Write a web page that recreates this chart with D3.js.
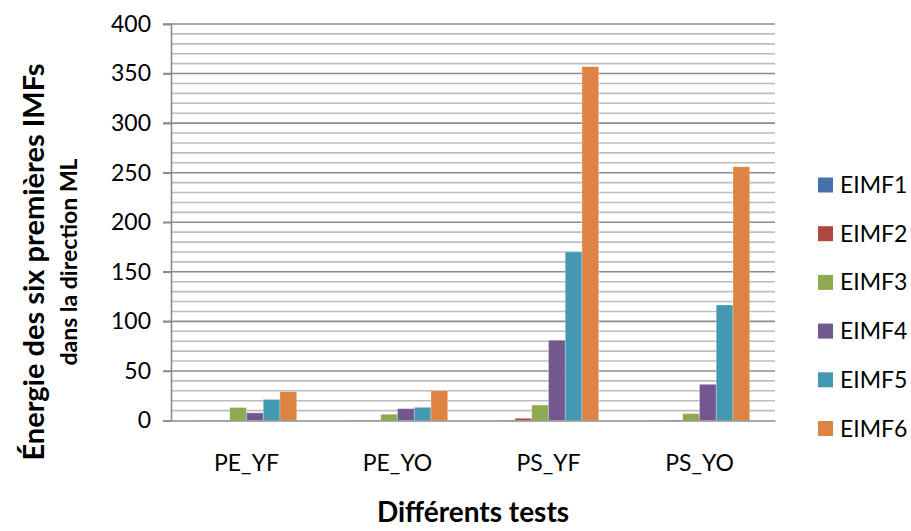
<!DOCTYPE html>
<html><head><meta charset="utf-8">
<script src="https://cdn.jsdelivr.net/npm/d3@7"></script>
<style>body{margin:0;background:#fff;} text{font-family:Lato,"Open Sans",sans-serif;}</style>
</head><body><svg id="c" width="911" height="531"></svg>
<script>
const categories = ["PE_YF","PE_YO","PS_YF","PS_YO"];
const seriesNames = ["EIMF1","EIMF2","EIMF3","EIMF4","EIMF5","EIMF6"];
const EIMF1 = [0.3, 0.2, 0.5, 0.3];
const EIMF2 = [0.4, 0.3, 2.2, 0.5];
const EIMF3 = [13.1, 6.3, 15.6, 6.9];
const EIMF4 = [7.7, 11.9, 81, 36.5];
const EIMF5 = [21.2, 13.3, 170, 116.5];
const EIMF6 = [29.2, 30, 357, 256];
const yTicks = [0,50,100,150,200,250,300,350,400];
const colors = ["#4472AC","#B0463F","#8DAA4F","#73578F","#4399B1","#DE8442"];

const series = [EIMF1,EIMF2,EIMF3,EIMF4,EIMF5,EIMF6];
const svg = d3.select("#c");
const L=171, R=775, T=24, B=420.5;
const y = d3.scaleLinear().domain([0,400]).range([B,T]);
const x0 = d3.scaleBand().domain(categories).range([L,R]);
const st = x0.step();
const x1 = d3.scaleBand().domain(seriesNames).range([st*0.1675, st*0.8325]);

// minor grid
const minor = d3.range(10,400,10).filter(v=>v%50!==0);
svg.append("g").selectAll("line").data(minor).join("line")
  .attr("x1",L).attr("x2",R).attr("y1",d=>y(d)).attr("y2",d=>y(d))
  .attr("stroke","#BDBDBD").attr("stroke-width",1.6);
svg.append("g").selectAll("line").data(yTicks.filter(v=>v>0)).join("line")
  .attr("x1",L-8).attr("x2",R).attr("y1",d=>y(d)).attr("y2",d=>y(d))
  .attr("stroke","#8C8C8C").attr("stroke-width",1.6);

// bars
const g = svg.append("g");
categories.forEach((c,i)=>{
  seriesNames.forEach((s,j)=>{
    const v = series[j][i];
    g.append("rect").attr("x",x0(c)+x1(s)).attr("width",x1.bandwidth())
      .attr("y",y(v)).attr("height",B-y(v)).attr("fill",colors[j])
      .attr("stroke","rgba(255,255,255,0.35)").attr("stroke-width",0.8);
  });
});

// axes
const ya = d3.axisLeft(y).tickValues(yTicks).tickSize(8).tickPadding(12);
const yg = svg.append("g").attr("transform",`translate(${L},0)`).call(ya);
yg.select(".domain").attr("stroke","#8C8C8C").attr("stroke-width",1.6);
yg.selectAll(".tick line").attr("stroke","#8C8C8C").attr("stroke-width",1.6);
yg.selectAll("text").attr("font-size",23).attr("fill","#000").style("font-family","Lato");

const xa = d3.axisBottom(x0).tickSize(0).tickPadding(34);
const xg = svg.append("g").attr("transform",`translate(0,${B})`).call(xa);
xg.select(".domain").attr("stroke","#8C8C8C").attr("stroke-width",1.6);
xg.selectAll("text").attr("font-size",23).attr("fill","#000").style("font-family","Lato");

// titles
svg.append("text").attr("x",(L+R)/2).attr("y",522).attr("text-anchor","middle")
  .attr("font-size",28).attr("font-weight","bold").text("Différents tests");
svg.append("text").attr("transform","translate(44,262) rotate(-90)").attr("text-anchor","middle")
  .attr("font-size",29).attr("font-weight","bold").text("Énergie des six premières IMFs");
svg.append("text").attr("transform","translate(77,262) rotate(-90)").attr("text-anchor","middle")
  .attr("font-size",23).attr("font-weight","bold").text("dans la direction ML");

// legend
const lg = svg.append("g");
seriesNames.forEach((s,j)=>{
  const cy = 185 + j*48.7;
  lg.append("rect").attr("x",818).attr("y",cy-7.5).attr("width",15).attr("height",15).attr("fill",colors[j]);
  lg.append("text").attr("x",840).attr("y",cy+8).attr("font-size",23).text(s);
});
</script></body></html>
